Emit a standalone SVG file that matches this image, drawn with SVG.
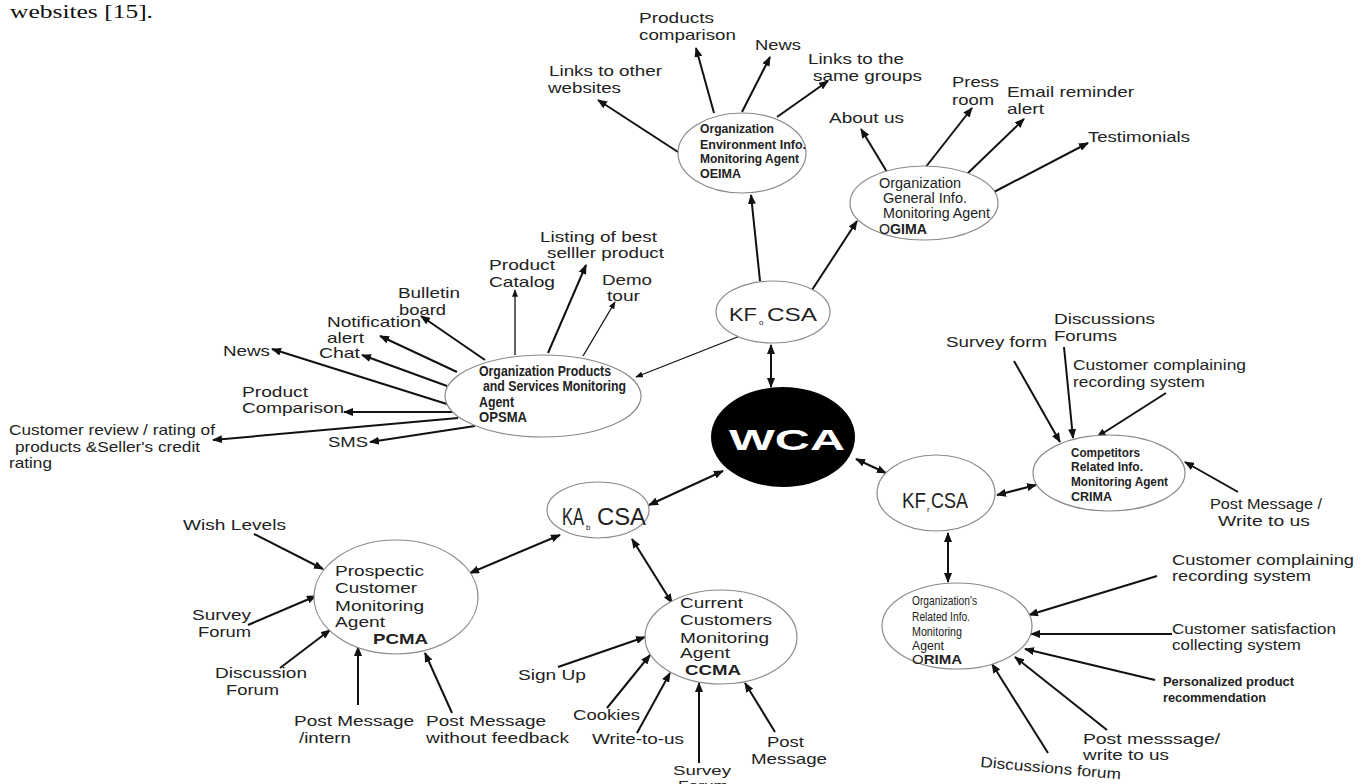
<svg xmlns="http://www.w3.org/2000/svg" width="1364" height="784" viewBox="0 0 1364 784">
<style>
text{font-family:"Liberation Sans",Arial,sans-serif;fill:#222}
.l{font-size:15px}
.n{font-size:12px;font-weight:bold}
.m{font-size:15px}
.b{font-weight:bold}
.e{fill:#fff;stroke:#8a8a8a;stroke-width:1.2}
.c line{stroke:#111;stroke-width:2;marker-end:url(#ah)}
.c line.d{marker-start:url(#ah)}
.c line.t{stroke-width:1.3;marker-end:url(#ahs)}
</style>
<defs>
<marker id="ah" viewBox="0 0 10 8" refX="9" refY="4" markerWidth="10" markerHeight="8" markerUnits="userSpaceOnUse" orient="auto-start-reverse"><path d="M0,0 L10,4 L0,8 z" fill="#111"/></marker>
<marker id="ahs" viewBox="0 0 10 8" refX="9" refY="4" markerWidth="8" markerHeight="6" markerUnits="userSpaceOnUse" orient="auto-start-reverse"><path d="M0,0 L10,4 L0,8 z" fill="#111"/></marker>
</defs>
<rect width="1364" height="784" fill="#fff"/>
<text x="10" y="18" style="font-family:'Liberation Serif','Times New Roman',serif;font-size:19px;fill:#111" textLength="143" lengthAdjust="spacingAndGlyphs">websites [15].</text>

<g class="c" id="connectors">
<line x1="760" y1="281" x2="751" y2="195"/>
<line x1="812" y1="290" x2="857" y2="221"/>
<line class="t" x1="740" y1="336" x2="636" y2="377"/>
<line class="d" x1="771" y1="345" x2="771" y2="387"/>
<line class="d" x1="856" y1="459" x2="886" y2="473"/>
<line class="d" x1="997" y1="495" x2="1036" y2="485"/>
<line class="d" x1="948" y1="533" x2="948" y2="582"/>
<line class="d" x1="723" y1="471" x2="649" y2="505"/>
<line class="d" x1="560" y1="535" x2="470" y2="573"/>
<line class="d" x1="632" y1="539" x2="672" y2="603"/>
<line x1="678" y1="152" x2="598" y2="100"/>
<line x1="714" y1="113" x2="696" y2="48"/>
<line x1="742" y1="112" x2="770" y2="57"/>
<line x1="777" y1="117" x2="828" y2="81"/>
<line x1="887" y1="172" x2="861" y2="129"/>
<line x1="925" y1="168" x2="972" y2="108"/>
<line x1="967" y1="174" x2="1024" y2="119"/>
<line x1="994" y1="192" x2="1088" y2="143"/>
<line x1="485" y1="360" x2="421" y2="316"/>
<line x1="457" y1="372" x2="380" y2="336"/>
<line x1="447" y1="386" x2="362" y2="355"/>
<line x1="450" y1="405" x2="272" y2="349"/>
<line x1="455" y1="412" x2="344" y2="412"/>
<line x1="458" y1="418" x2="213" y2="440"/>
<line x1="475" y1="426" x2="370" y2="442"/>
<line class="t" x1="515" y1="355" x2="515" y2="290"/>
<line x1="548" y1="353" x2="586" y2="265"/>
<line class="t" x1="583" y1="356" x2="615" y2="302"/>
<line x1="1014" y1="361" x2="1060" y2="442"/>
<line x1="1064" y1="347" x2="1073" y2="438"/>
<line x1="1166" y1="393" x2="1097" y2="437"/>
<line x1="1238" y1="492" x2="1185" y2="462"/>
<line x1="1157" y1="576" x2="1029" y2="615"/>
<line x1="1172" y1="634" x2="1031" y2="634"/>
<line x1="1155" y1="680" x2="1025" y2="649"/>
<line x1="1107" y1="730" x2="1015" y2="657"/>
<line x1="1048" y1="753" x2="992" y2="664"/>
<line x1="254" y1="534" x2="323" y2="569"/>
<line x1="248" y1="625" x2="316" y2="596"/>
<line x1="280" y1="668" x2="330" y2="630"/>
<line x1="358" y1="705" x2="358" y2="647"/>
<line x1="452" y1="713" x2="425" y2="653"/>
<line x1="558" y1="667" x2="645" y2="637"/>
<line x1="607" y1="708" x2="650" y2="655"/>
<line x1="637" y1="733" x2="670" y2="673"/>
<line x1="699" y1="763" x2="699" y2="683"/>
<line x1="775" y1="732" x2="745" y2="683"/>
</g>

<g id="oeima">
<ellipse class="e" cx="742" cy="153" rx="64" ry="40"/>
<text class="n" x="700" y="133" textLength="74" lengthAdjust="spacingAndGlyphs">Organization</text>
<text class="n" x="700" y="149" textLength="106" lengthAdjust="spacingAndGlyphs">Environment Info.</text>
<text class="n" x="700" y="163" textLength="99" lengthAdjust="spacingAndGlyphs">Monitoring Agent</text>
<text class="n" x="700" y="178" textLength="41" lengthAdjust="spacingAndGlyphs">OEIMA</text>
</g>
<g id="ogima">
<ellipse class="e" cx="924" cy="203" rx="74" ry="37"/>
<text class="m" x="879" y="188" textLength="82" lengthAdjust="spacingAndGlyphs" style="font-size:14px">Organization</text>
<text class="m" x="883" y="203" textLength="84" lengthAdjust="spacingAndGlyphs" style="font-size:14px">General Info.</text>
<text class="m" x="883" y="218" textLength="107" lengthAdjust="spacingAndGlyphs" style="font-size:14px">Monitoring Agent</text>
<text class="m" x="879" y="234" textLength="48" lengthAdjust="spacingAndGlyphs" style="font-size:14px">O<tspan class="b">GIMA</tspan></text>
</g>
<g id="kfocsa">
<ellipse class="e" cx="773" cy="312" rx="57" ry="31"/>
<text x="729" y="321" style="font-size:19px"><tspan textLength="28" lengthAdjust="spacingAndGlyphs">KF</tspan><tspan x="759" y="325" style="font-size:8px">o</tspan><tspan x="767" y="321" textLength="50" lengthAdjust="spacingAndGlyphs">CSA</tspan></text>
</g>
<g id="wca">
<ellipse cx="783" cy="437" rx="72" ry="50" fill="#000"/>
<text x="729" y="450" style="font-size:30px;font-weight:bold;fill:#fff" textLength="116" lengthAdjust="spacingAndGlyphs">WCA</text>
</g>
<g id="opsma">
<ellipse class="e" cx="543" cy="396" rx="98" ry="41"/>
<text class="n" x="479" y="376" style="font-size:14px" textLength="132" lengthAdjust="spacingAndGlyphs">Organization Products</text>
<text class="n" x="483" y="391" style="font-size:14px" textLength="143" lengthAdjust="spacingAndGlyphs">and Services Monitoring</text>
<text class="n" x="479" y="407" style="font-size:14px" textLength="35" lengthAdjust="spacingAndGlyphs">Agent</text>
<text class="n" x="479" y="422" style="font-size:14px" textLength="48" lengthAdjust="spacingAndGlyphs">OPSMA</text>
</g>
<g id="crima">
<ellipse class="e" cx="1109" cy="473" rx="76" ry="38"/>
<text class="n" x="1071" y="457" style="font-size:13px" textLength="69" lengthAdjust="spacingAndGlyphs">Competitors</text>
<text class="n" x="1071" y="471" style="font-size:13px" textLength="72" lengthAdjust="spacingAndGlyphs">Related Info.</text>
<text class="n" x="1071" y="486" style="font-size:13px" textLength="97" lengthAdjust="spacingAndGlyphs">Monitoring Agent</text>
<text class="n" x="1071" y="501" style="font-size:13px" textLength="41" lengthAdjust="spacingAndGlyphs">CRIMA</text>
</g>
<g id="kfrcsa">
<ellipse class="e" cx="936" cy="493" rx="59" ry="38"/>
<text x="902" y="508" style="font-size:22px"><tspan textLength="24" lengthAdjust="spacingAndGlyphs">KF</tspan><tspan x="927" y="512" style="font-size:8px">r</tspan><tspan x="931" y="508" textLength="37" lengthAdjust="spacingAndGlyphs">CSA</tspan></text>
</g>
<g id="orima">
<ellipse class="e" cx="957" cy="626" rx="75" ry="43"/>
<text x="912" y="605" style="font-size:13px" textLength="65" lengthAdjust="spacingAndGlyphs">Organization's</text>
<text x="912" y="621" style="font-size:13px" textLength="58" lengthAdjust="spacingAndGlyphs">Related Info.</text>
<text x="912" y="636" style="font-size:13px" textLength="50" lengthAdjust="spacingAndGlyphs">Monitoring</text>
<text x="912" y="650" style="font-size:13px" textLength="32" lengthAdjust="spacingAndGlyphs">Agent</text>
<text x="912" y="664" style="font-size:13px" textLength="50" lengthAdjust="spacingAndGlyphs">O<tspan class="b">RIMA</tspan></text>
</g>
<g id="pcma">
<ellipse class="e" cx="396" cy="597" rx="82" ry="57"/>
<text class="m" x="335" y="576" textLength="89" lengthAdjust="spacingAndGlyphs">Prospectic</text>
<text class="m" x="335" y="593" textLength="82" lengthAdjust="spacingAndGlyphs">Customer</text>
<text class="m" x="335" y="611" textLength="89" lengthAdjust="spacingAndGlyphs">Monitoring</text>
<text class="m" x="335" y="627" textLength="50" lengthAdjust="spacingAndGlyphs">Agent</text>
<text class="m b" x="373" y="644" textLength="55" lengthAdjust="spacingAndGlyphs">PCMA</text>
</g>
<g id="kabcsa">
<ellipse class="e" cx="598" cy="510" rx="51" ry="28"/>
<text x="562" y="525" style="font-size:23px"><tspan textLength="22" lengthAdjust="spacingAndGlyphs">KA</tspan><tspan x="586" y="530" style="font-size:8px">b</tspan><tspan x="597" y="525" textLength="49" lengthAdjust="spacingAndGlyphs">CSA</tspan></text>
</g>
<g id="ccma">
<ellipse class="e" cx="721" cy="637" rx="76" ry="47"/>
<text class="m" x="680" y="608" textLength="63" lengthAdjust="spacingAndGlyphs">Current</text>
<text class="m" x="680" y="625" textLength="92" lengthAdjust="spacingAndGlyphs">Customers</text>
<text class="m" x="680" y="643" textLength="89" lengthAdjust="spacingAndGlyphs">Monitoring</text>
<text class="m" x="680" y="658" textLength="50" lengthAdjust="spacingAndGlyphs">Agent</text>
<text class="m b" x="685" y="675" textLength="56" lengthAdjust="spacingAndGlyphs">CCMA</text>
</g>

<g id="leaf-oeima" class="l">
<g id="l-products-comparison"><text x="639" y="23" textLength="75" lengthAdjust="spacingAndGlyphs">Products</text><text x="639" y="40" textLength="97" lengthAdjust="spacingAndGlyphs">comparison</text></g>
<g id="l-news-top"><text x="755" y="50" textLength="46" lengthAdjust="spacingAndGlyphs">News</text></g>
<g id="l-links-same"><text x="808" y="64" textLength="96" lengthAdjust="spacingAndGlyphs">Links to the</text><text x="813" y="81" textLength="109" lengthAdjust="spacingAndGlyphs">same groups</text></g>
<g id="l-links-other"><text x="549" y="76" textLength="113" lengthAdjust="spacingAndGlyphs">Links to other</text><text x="548" y="93" textLength="73" lengthAdjust="spacingAndGlyphs">websites</text></g>
</g>
<g id="leaf-ogima" class="l">
<g id="l-about"><text x="829" y="123" textLength="75" lengthAdjust="spacingAndGlyphs">About us</text></g>
<g id="l-press"><text x="952" y="87" textLength="47" lengthAdjust="spacingAndGlyphs">Press</text><text x="952" y="105" textLength="42" lengthAdjust="spacingAndGlyphs">room</text></g>
<g id="l-email"><text x="1007" y="97" textLength="127" lengthAdjust="spacingAndGlyphs">Email reminder</text><text x="1007" y="114" textLength="37" lengthAdjust="spacingAndGlyphs">alert</text></g>
<g id="l-testimonials"><text x="1088" y="142" textLength="102" lengthAdjust="spacingAndGlyphs">Testimonials</text></g>
</g>
<g id="leaf-opsma" class="l">
<g id="l-listing"><text x="540" y="242" textLength="117" lengthAdjust="spacingAndGlyphs">Listing of best</text><text x="547" y="258" textLength="117" lengthAdjust="spacingAndGlyphs">selller product</text></g>
<g id="l-catalog"><text x="489" y="270" textLength="66" lengthAdjust="spacingAndGlyphs">Product</text><text x="489" y="287" textLength="66" lengthAdjust="spacingAndGlyphs">Catalog</text></g>
<g id="l-demo"><text x="602" y="285" textLength="50" lengthAdjust="spacingAndGlyphs">Demo</text><text x="607" y="301" textLength="33" lengthAdjust="spacingAndGlyphs">tour</text></g>
<g id="l-bulletin"><text x="398" y="298" textLength="62" lengthAdjust="spacingAndGlyphs">Bulletin</text><text x="399" y="315" textLength="47" lengthAdjust="spacingAndGlyphs">board</text></g>
<g id="l-notification"><text x="327" y="327" textLength="94" lengthAdjust="spacingAndGlyphs">Notification</text><text x="327" y="343" textLength="37" lengthAdjust="spacingAndGlyphs">alert</text></g>
<g id="l-chat"><text x="319" y="358" textLength="41" lengthAdjust="spacingAndGlyphs">Chat</text></g>
<g id="l-news-left"><text x="223" y="356" textLength="47" lengthAdjust="spacingAndGlyphs">News</text></g>
<g id="l-prodcomp"><text x="242" y="397" textLength="66" lengthAdjust="spacingAndGlyphs">Product</text><text x="242" y="413" textLength="102" lengthAdjust="spacingAndGlyphs">Comparison</text></g>
<g id="l-review"><text x="9" y="435" textLength="206" lengthAdjust="spacingAndGlyphs">Customer review / rating of</text><text x="15" y="452" textLength="185" lengthAdjust="spacingAndGlyphs">products &amp;Seller's credit</text><text x="9" y="468" textLength="43" lengthAdjust="spacingAndGlyphs">rating</text></g>
<g id="l-sms"><text x="328" y="447" textLength="40" lengthAdjust="spacingAndGlyphs">SMS</text></g>
</g>
<g id="leaf-crima" class="l">
<g id="l-survey-form"><text x="946" y="347" textLength="101" lengthAdjust="spacingAndGlyphs">Survey form</text></g>
<g id="l-discussions-forums"><text x="1054" y="324" textLength="101" lengthAdjust="spacingAndGlyphs">Discussions</text><text x="1054" y="341" textLength="63" lengthAdjust="spacingAndGlyphs">Forums</text></g>
<g id="l-complain-1"><text x="1073" y="370" textLength="173" lengthAdjust="spacingAndGlyphs">Customer complaining</text><text x="1073" y="387" textLength="132" lengthAdjust="spacingAndGlyphs">recording system</text></g>
<g id="l-post-write"><text x="1210" y="509" textLength="112" lengthAdjust="spacingAndGlyphs">Post Message /</text><text x="1218" y="526" textLength="92" lengthAdjust="spacingAndGlyphs">Write to us</text></g>
</g>
<g id="leaf-orima" class="l">
<g id="l-complain-2"><text x="1172" y="565" textLength="182" lengthAdjust="spacingAndGlyphs">Customer complaining</text><text x="1172" y="581" textLength="139" lengthAdjust="spacingAndGlyphs">recording system</text></g>
<g id="l-satisfaction"><text x="1172" y="634" textLength="164" lengthAdjust="spacingAndGlyphs">Customer satisfaction</text><text x="1172" y="650" textLength="129" lengthAdjust="spacingAndGlyphs">collecting system</text></g>
<g id="l-personalized"><text class="n" x="1163" y="686" textLength="131" lengthAdjust="spacingAndGlyphs">Personalized product</text><text class="n" x="1163" y="702" textLength="103" lengthAdjust="spacingAndGlyphs">recommendation</text></g>
<g id="l-post-msg"><text x="1083" y="744" textLength="137" lengthAdjust="spacingAndGlyphs">Post messsage/</text><text x="1083" y="760" textLength="86" lengthAdjust="spacingAndGlyphs">write to us</text></g>
<g id="l-disc-forum"><text x="980" y="767" transform="rotate(5 980 767)" textLength="141" lengthAdjust="spacingAndGlyphs">Discussions forum</text></g>
</g>
<g id="leaf-pcma" class="l">
<g id="l-wish"><text x="183" y="530" textLength="103" lengthAdjust="spacingAndGlyphs">Wish Levels</text></g>
<g id="l-survey-forum-1"><text x="192" y="620" textLength="59" lengthAdjust="spacingAndGlyphs">Survey</text><text x="198" y="637" textLength="53" lengthAdjust="spacingAndGlyphs">Forum</text></g>
<g id="l-discussion-forum"><text x="215" y="678" textLength="92" lengthAdjust="spacingAndGlyphs">Discussion</text><text x="226" y="695" textLength="53" lengthAdjust="spacingAndGlyphs">Forum</text></g>
<g id="l-post-intern"><text x="294" y="726" textLength="120" lengthAdjust="spacingAndGlyphs">Post Message</text><text x="299" y="743" textLength="52" lengthAdjust="spacingAndGlyphs">/intern</text></g>
<g id="l-post-nofeedback"><text x="426" y="726" textLength="120" lengthAdjust="spacingAndGlyphs">Post Message</text><text x="426" y="743" textLength="143" lengthAdjust="spacingAndGlyphs">without feedback</text></g>
</g>
<g id="leaf-ccma" class="l">
<g id="l-signup"><text x="518" y="680" textLength="68" lengthAdjust="spacingAndGlyphs">Sign Up</text></g>
<g id="l-cookies"><text x="573" y="720" textLength="67" lengthAdjust="spacingAndGlyphs">Cookies</text></g>
<g id="l-write"><text x="592" y="744" textLength="92" lengthAdjust="spacingAndGlyphs">Write-to-us</text></g>
<g id="l-survey-forum-2"><text x="673" y="775" style="font-size:13px" textLength="58" lengthAdjust="spacingAndGlyphs">Survey</text><text x="678" y="790" style="font-size:13px" textLength="50" lengthAdjust="spacingAndGlyphs">Forum</text></g>
<g id="l-post-message"><text x="767" y="747" textLength="37" lengthAdjust="spacingAndGlyphs">Post</text><text x="751" y="764" textLength="76" lengthAdjust="spacingAndGlyphs">Message</text></g>
</g>
</svg>
